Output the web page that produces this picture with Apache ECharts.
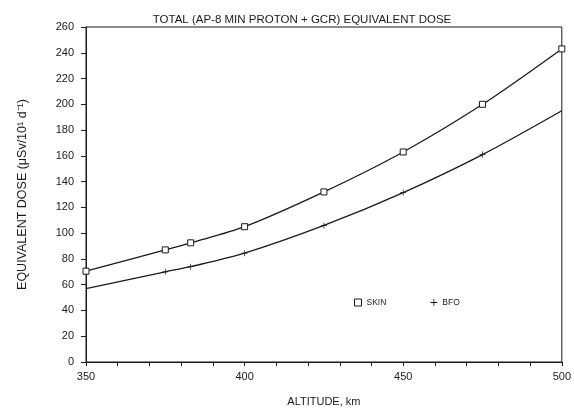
<!DOCTYPE html>
<html>
<head>
<meta charset="utf-8">
<script src="https://cdn.jsdelivr.net/npm/echarts@6/dist/echarts.min.js"></script>
<style>html,body{margin:0;padding:0;background:#fff}#c{width:574px;height:412px}</style>
</head>
<body>
<div id="c"></div>
<script>
const altitudes = [350, 375, 383, 400, 425, 450, 475, 500];
const skinDose = [70.5, 87, 92.5, 105, 132, 163, 200, 243];
const bfoDose = [57, 70, 74, 84.5, 106, 131.5, 161, 195];
const yTicks = [0, 20, 40, 60, 80, 100, 120, 140, 160, 180, 200, 220, 240, 260];
const xLabels = [350, 400, 450, 500];

const plusPath = 'path://M0,4.4H10V5.6H0Z M4.4,0H5.6V10H4.4Z';
const FONT = 'Liberation Sans';
const INK = '#1a1a1a';

const chart = echarts.init(document.getElementById('c'), null, {renderer: 'canvas'});
chart.setOption({
  animation: false,
  backgroundColor: '#fff',
  title: {
    text: 'TOTAL (AP-8 MIN PROTON + GCR) EQUIVALENT DOSE',
    left: 297, top: 9, textAlign: 'center',
    textStyle: {fontFamily: FONT, fontSize: 11.5, fontWeight: 'normal', color: INK}
  },
  grid: {left: 86, right: 9, top: 27, bottom: 47, show: true, borderColor: INK, borderWidth: 1},
  legend: {
    left: 349, top: 293, itemWidth: 7, itemHeight: 7, itemGap: 44,
    textStyle: {fontFamily: FONT, fontSize: 8.5, color: INK},
    data: [
      {name: 'SKIN', icon: 'rect', itemStyle: {color: '#fff', borderColor: INK, borderWidth: 1}},
      {name: 'BFO', icon: plusPath, itemStyle: {color: INK}}
    ]
  },
  xAxis: {
    type: 'value', min: 350, max: 500, interval: 10,
    name: 'ALTITUDE, km', nameLocation: 'middle', nameGap: 34,
    nameTextStyle: {fontFamily: FONT, fontSize: 11, color: INK},
    axisLine: {lineStyle: {color: INK, width: 1}},
    axisTick: {show: true, length: 4, lineStyle: {color: INK}},
    axisLabel: {fontFamily: FONT, fontSize: 11, color: INK, margin: 9,
      formatter: v => xLabels.includes(v) ? String(v) : ''},
    splitLine: {show: false}
  },
  yAxis: {
    type: 'value', min: 0, max: 260, interval: 20,
    name: 'EQUIVALENT DOSE (μSv/10¹ d⁻¹)', nameLocation: 'middle', nameGap: 57,
    nameTextStyle: {fontFamily: FONT, fontSize: 12.5, color: INK},
    axisLine: {show: true, lineStyle: {color: INK, width: 1}},
    axisTick: {show: true, length: 5, lineStyle: {color: INK}},
    axisLabel: {fontFamily: FONT, fontSize: 11, color: INK, margin: 12,
      formatter: v => yTicks.includes(v) ? String(v) : ''},
    splitLine: {show: false}
  },
  series: [
    {
      name: 'SKIN', type: 'line', smooth: 0.3,
      data: altitudes.map((a, i) => [a, skinDose[i]]),
      symbol: 'rect', symbolSize: 6,
      lineStyle: {color: INK, width: 1.3},
      itemStyle: {color: '#fff', borderColor: INK, borderWidth: 1},
      z: 3
    },
    {
      name: 'BFO', type: 'line', smooth: 0.3,
      data: altitudes.map((a, i) => ({
        value: [a, bfoDose[i]],
        symbol: (i === 0 || i === altitudes.length - 1) ? 'none' : plusPath
      })),
      symbolSize: 6,
      lineStyle: {color: INK, width: 1.3},
      itemStyle: {color: INK},
      z: 2
    }
  ]
});
</script>
</body>
</html>
